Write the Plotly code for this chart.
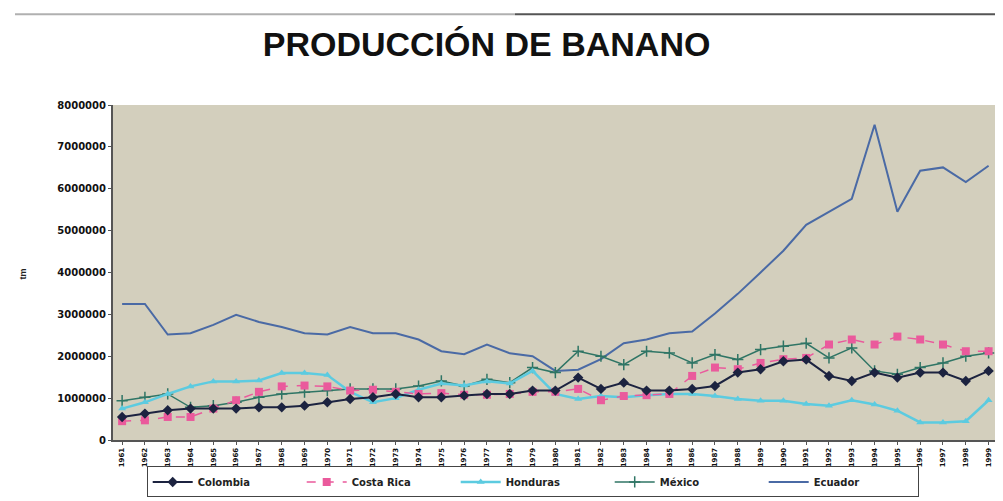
import plotly.graph_objs as go

# años 1961-1999
years = [str(y) for y in range(1961, 2000)]

# producción en toneladas métricas
colombia = [550000, 630000, 710000, 750000, 750000, 750000, 780000, 780000, 820000, 900000,
            980000, 1020000, 1100000, 1020000, 1020000, 1060000, 1100000, 1100000, 1180000, 1180000,
            1490000, 1220000, 1370000, 1180000, 1180000, 1220000, 1290000, 1610000, 1690000, 1880000,
            1920000, 1530000, 1410000, 1610000, 1490000, 1610000, 1610000, 1410000, 1650000]
costa_rica = [450000, 470000, 550000, 550000, 750000, 950000, 1150000, 1280000, 1300000, 1280000,
              1180000, 1200000, 1150000, 1100000, 1120000, 1080000, 1080000, 1100000, 1150000, 1150000,
              1220000, 950000, 1050000, 1070000, 1100000, 1530000, 1730000, 1690000, 1840000, 1930000,
              1960000, 2280000, 2400000, 2280000, 2470000, 2400000, 2280000, 2120000, 2120000]
honduras = [750000, 900000, 1100000, 1280000, 1400000, 1400000, 1420000, 1600000, 1600000, 1550000,
            1150000, 900000, 1000000, 1200000, 1350000, 1300000, 1400000, 1350000, 1650000, 1100000,
            980000, 1050000, 1020000, 1070000, 1100000, 1100000, 1050000, 980000, 940000, 940000,
            860000, 820000, 950000, 850000, 700000, 420000, 420000, 450000, 950000]
mexico = [940000, 1020000, 1100000, 780000, 820000, 900000, 1020000, 1100000, 1140000, 1180000,
          1220000, 1220000, 1220000, 1290000, 1410000, 1290000, 1450000, 1370000, 1730000, 1610000,
          2120000, 2000000, 1800000, 2120000, 2080000, 1840000, 2040000, 1920000, 2160000, 2240000,
          2310000, 1960000, 2200000, 1650000, 1570000, 1730000, 1840000, 2000000, 2080000]
ecuador = [3250000, 3250000, 2520000, 2550000, 2750000, 2990000, 2820000, 2700000, 2550000, 2520000,
           2700000, 2550000, 2550000, 2400000, 2120000, 2050000, 2280000, 2070000, 2000000, 1650000,
           1680000, 1930000, 2310000, 2400000, 2550000, 2590000, 3020000, 3490000, 4000000, 4520000,
           5140000, 5450000, 5760000, 7530000, 5450000, 6430000, 6510000, 6160000, 6550000]

y_ticks = [0, 1000000, 2000000, 3000000, 4000000, 5000000, 6000000, 7000000, 8000000]

x = list(range(len(years)))

fig = go.Figure()

fig.add_trace(go.Scatter(
    x=x, y=ecuador, name="Ecuador", mode="lines",
    line=dict(color="#4a6aa5", width=2),
))
fig.add_trace(go.Scatter(
    x=x, y=mexico, name="México", mode="lines+markers",
    line=dict(color="#2f7565", width=1.5),
    marker=dict(symbol="cross-thin", size=8, line=dict(color="#2f7565", width=1.5)),
))
fig.add_trace(go.Scatter(
    x=x, y=honduras, name="Honduras", mode="lines+markers",
    line=dict(color="#5ccbe0", width=2.5),
    marker=dict(symbol="triangle-up", size=7, color="#5ccbe0"),
))
fig.add_trace(go.Scatter(
    x=x, y=costa_rica, name="Costa Rica", mode="lines+markers",
    line=dict(color="#ea5a9c", width=1.5, dash="dash"),
    marker=dict(symbol="square", size=8, color="#ea5a9c"),
))
fig.add_trace(go.Scatter(
    x=x, y=colombia, name="Colombia", mode="lines+markers",
    line=dict(color="#1c2340", width=2),
    marker=dict(symbol="diamond", size=8, color="#1c2340"),
))

# la página tiene 8px de margen en body: el div empieza en (8, 8)
fig.update_layout(
    width=995, height=493,
    paper_bgcolor="white",
    plot_bgcolor="#d3cfbd",
    margin=dict(l=105, r=3, t=97, b=56),
    font=dict(family="Liberation Sans, Arial", color="#222"),
    title=dict(text="<b>PRODUCCIÓN DE BANANO</b>", x=0.481, xanchor="center",
               y=0.927, yanchor="middle",
               font=dict(size=34, color="#111", family="Liberation Sans, Arial")),
    showlegend=True,
    legend=dict(orientation="h", traceorder="reversed",
                x=0.038, xanchor="left", y=-0.079, yanchor="top",
                bgcolor="white", bordercolor="#444", borderwidth=1,
                entrywidth=99, itemwidth=40,
                font=dict(size=10, family="DejaVu Sans", color="#222", weight="bold")),
    xaxis=dict(
        range=[-0.4, 38.5], automargin=False,
        tickmode="array", tickvals=x, ticktext=years,
        tickangle=-90,
        tickfont=dict(size=7, family="DejaVu Sans", color="#111", weight="bold"),
        showgrid=False, zeroline=False,
        showline=True, linecolor="#555", linewidth=2,
        ticks="outside", ticklen=3, tickcolor="#555",
    ),
    yaxis=dict(
        range=[0, 8000000], automargin=False,
        tickmode="array", tickvals=y_ticks, ticktext=[str(v) for v in y_ticks],
        tickfont=dict(size=10, family="DejaVu Sans", color="#111", weight="bold"),
        showgrid=False, zeroline=False,
        showline=True, linecolor="#555", linewidth=2,
        ticks="outside", ticklen=3, tickcolor="#555",
    ),
)

# título del eje y
fig.add_annotation(text="<b>tm</b>", xref="paper", yref="paper",
                   x=(16 - 113) / 887, y=(445 - 277) / 340,
                   textangle=-90, showarrow=False,
                   font=dict(size=9, color="#222"))

# líneas del escaneo en la parte superior
fig.add_shape(type="line", xref="paper", yref="paper",
              x0=(15 - 113) / 887, x1=(515 - 113) / 887,
              y0=(445 - 13) / 340, y1=(445 - 13) / 340,
              line=dict(color="#b0b0b0", width=2))
fig.add_shape(type="line", xref="paper", yref="paper",
              x0=(515 - 113) / 887, x1=(1003 - 113) / 887,
              y0=(445 - 13) / 340, y1=(445 - 13) / 340,
              line=dict(color="#555555", width=2))

fig.write_html("out.html")
